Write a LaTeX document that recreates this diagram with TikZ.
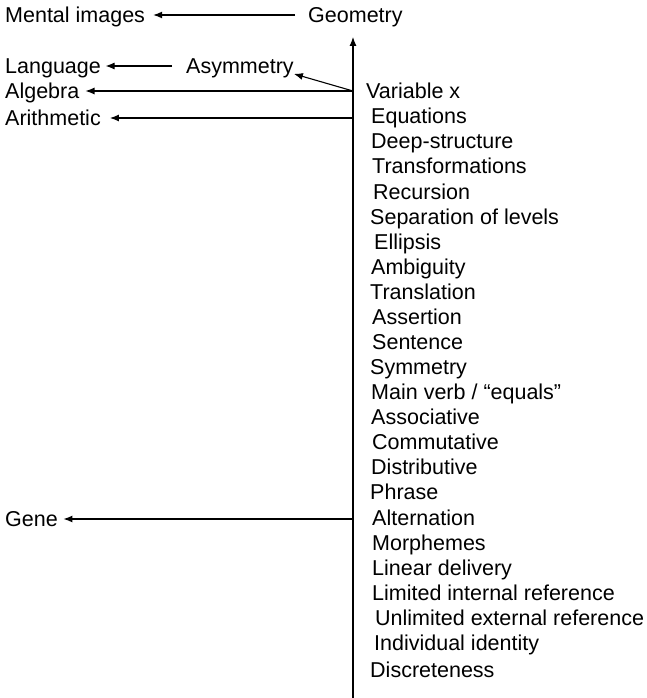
\documentclass[tikz,border=0pt]{standalone}
\usepackage{fontspec}
\setmainfont{Liberation Sans}
\usetikzlibrary{arrows.meta}
\begin{document}
\begin{tikzpicture}[x=1pt,y=-1pt,
  lbl/.style={anchor=west,inner sep=0pt,font=\fontsize{21.5}{24}\selectfont,text height=15.4pt,text depth=0pt},
  arr/.style={-{Latex[length=9pt,width=7pt]},line width=1.1pt}]
\useasboundingbox (0,0) rectangle (647,698);
% left labels
\node[lbl] (mental) at (5,15) {Mental images};
\node[lbl] (geo) at (308,15) {Geometry};
\node[lbl] (lang) at (5,66) {Language};
\node[lbl] (asym) at (186,66) {Asymmetry};
\node[lbl] (alg) at (5,91) {Algebra};
\node[lbl] (arith) at (5,118) {Arithmetic};
\node[lbl] (gene) at (5,519) {Gene};
% list
\node[lbl] (l1) at (366,91) {Variable x};
\node[lbl] (l2) at (371,116) {Equations};
\node[lbl] (l3) at (371,141) {Deep-structure};
\node[lbl] (l4) at (372,166) {Transformations};
\node[lbl] (l5) at (373,192) {Recursion};
\node[lbl] (l6) at (370,217) {Separation of levels};
\node[lbl] (l7) at (374,242) {Ellipsis};
\node[lbl] (l8) at (371,267) {Ambiguity};
\node[lbl] (l9) at (370,292) {Translation};
\node[lbl] (l10) at (372,317) {Assertion};
\node[lbl] (l11) at (372,342) {Sentence};
\node[lbl] (l12) at (370,367) {Symmetry};
\node[lbl] (l13) at (371,392) {Main verb / “equals”};
\node[lbl] (l14) at (371,417) {Associative};
\node[lbl] (l15) at (372,442) {Commutative};
\node[lbl] (l16) at (371,467) {Distributive};
\node[lbl] (l17) at (370,492) {Phrase};
\node[lbl] (l18) at (372,518) {Alternation};
\node[lbl] (l19) at (372,543) {Morphemes};
\node[lbl] (l20) at (372,568) {Linear delivery};
\node[lbl] (l21) at (372,593) {Limited internal reference};
\node[lbl] (l22) at (375,618) {Unlimited external reference};
\node[lbl] (l23) at (374,643) {Individual identity};
\node[lbl] (l24) at (370,670) {Discreteness};
% vertical axis
\coordinate (vtop) at (353,37);
\coordinate (vbot) at (353,698);
\coordinate (valg) at (353,91);
\coordinate (varith) at (353,118);
\coordinate (vgene) at (353,519);
\draw[arr] (vbot) -- (vtop);
% arrows
\draw[arr,shorten <=13pt,shorten >=8pt] (geo.west) -- (mental.east);
\draw[arr,shorten <=14pt,shorten >=4.5pt] (asym.west) -- (lang.east);
\draw[arr] (valg) -- (asym.south east);
\draw[arr,shorten >=6pt] (valg) -- (alg.east);
\draw[arr,shorten >=9pt] (varith) -- (arith.east);
\draw[arr,shorten >=5.5pt] (vgene) -- (gene.east);
\end{tikzpicture}
\end{document}
